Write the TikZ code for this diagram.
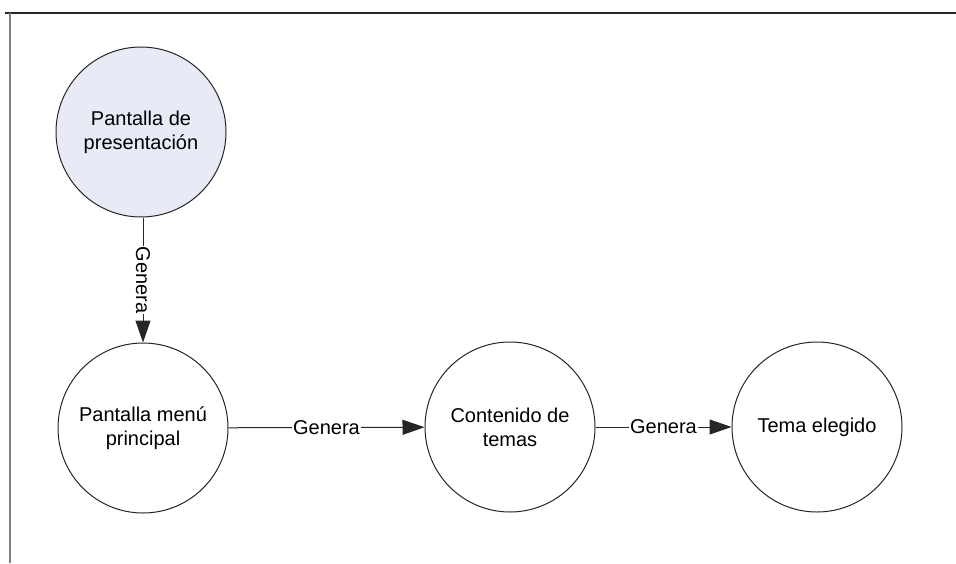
\documentclass[tikz,border=0pt]{standalone}
\usepackage{fontspec}
\setmainfont{Liberation Sans}
\usetikzlibrary{arrows.meta}
\definecolor{paleblue}{RGB}{232,234,245}
\tikzset{
  state/.style={circle,draw=black!85,line width=1pt,minimum size=170pt,inner sep=0pt,
    align=center,font=\fontsize{20}{24}\selectfont},
  link/.style={draw=black!85,line width=1pt,-{Triangle[length=22pt,width=15pt]}},
  lbl/.style={fill=white,inner sep=1pt,font=\fontsize{20}{24}\selectfont}
}
\begin{document}
\begin{tikzpicture}[x=1pt,y=-1pt]
  \useasboundingbox (0,0) rectangle (956,563);
  \draw[line width=2pt,black!85] (5,13) -- (956,13);
  \draw[line width=2pt,gray] (10,13) -- (10,563);
  \node[state,fill=paleblue] (pres) at (141,132) {Pantalla de\\presentación};
  \node[state] (menu) at (143,428) {Pantalla menú\\principal};
  \node[state] (temas) at (510,427) {Contenido de\\temas};
  \node[state] (tema) at (817,427) {Tema elegido};
  \draw[link] (pres.south -| menu) -- node[lbl,rotate=-90] {Genera} (menu.north);
  \draw[link] (menu) -- node[lbl] {Genera} (temas);
  \draw[link] (temas) -- node[lbl] {Genera} (tema);
\end{tikzpicture}
\end{document}
